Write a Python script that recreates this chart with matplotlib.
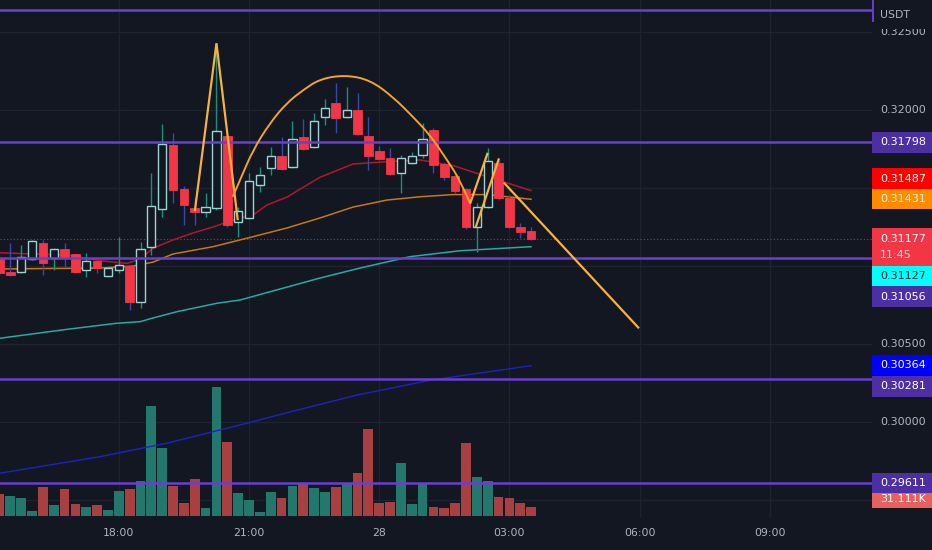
import matplotlib
matplotlib.use("Agg")
import matplotlib.pyplot as plt
import matplotlib.transforms as mtransforms
from matplotlib.patches import Rectangle, PathPatch
from matplotlib.path import Path

# ---------------- data (15-minute candles, index 0 .. 49) ----------------
opens = [0.31048, 0.30962, 0.30965, 0.31048, 0.31151, 0.31055, 0.31112, 0.31080, 0.30978, 0.31035,
         0.30939, 0.30978, 0.31003, 0.30772, 0.31125, 0.31369, 0.31779, 0.31497, 0.31375, 0.31349,
         0.31375, 0.31836, 0.31285, 0.31311, 0.31522, 0.31631, 0.31708, 0.31638, 0.31830, 0.31766,
         0.31958, 0.32048, 0.31958, 0.32003, 0.31836, 0.31740, 0.31696, 0.31599, 0.31663, 0.31715,
         0.31875, 0.31657, 0.31580, 0.31497, 0.31253, 0.31381, 0.31663, 0.31439, 0.31253, 0.31228]
highs = [0.31074, 0.31151, 0.31138, 0.31170, 0.31170, 0.31119, 0.31151, 0.31080, 0.31086, 0.31035,
         0.30990, 0.31189, 0.31010, 0.31157, 0.31599, 0.31913, 0.31856, 0.31516, 0.31439, 0.31471,
         0.32433, 0.31836, 0.31381, 0.31599, 0.31638, 0.31766, 0.31830, 0.31933, 0.31946, 0.31984,
         0.32074, 0.32176, 0.32151, 0.32112, 0.31958, 0.31772, 0.31760, 0.31715, 0.31734, 0.31920,
         0.31888, 0.31663, 0.31587, 0.31503, 0.31407, 0.31760, 0.31683, 0.31458, 0.31279, 0.31253]
lows = [0.30946, 0.30939, 0.30958, 0.31042, 0.30946, 0.30978, 0.30997, 0.30958, 0.30933, 0.30958,
        0.30933, 0.30958, 0.30721, 0.30734, 0.31074, 0.31317, 0.31407, 0.31266, 0.31266, 0.31317,
        0.31362, 0.31253, 0.31189, 0.31304, 0.31478, 0.31587, 0.31619, 0.31631, 0.31747, 0.31760,
        0.31907, 0.31856, 0.31952, 0.31843, 0.31619, 0.31683, 0.31587, 0.31471, 0.31657, 0.31696,
        0.31599, 0.31554, 0.31471, 0.31240, 0.31093, 0.31375, 0.31426, 0.31247, 0.31183, 0.31170]
closes = [0.30958, 0.30946, 0.31061, 0.31163, 0.31022, 0.31112, 0.31055, 0.30965, 0.31035, 0.30990,
          0.30990, 0.31010, 0.30772, 0.31112, 0.31388, 0.31785, 0.31490, 0.31394, 0.31349, 0.31381,
          0.31869, 0.31266, 0.31356, 0.31548, 0.31587, 0.31708, 0.31625, 0.31817, 0.31753, 0.31933,
          0.32016, 0.31952, 0.32003, 0.31849, 0.31708, 0.31689, 0.31593, 0.31696, 0.31708, 0.31817,
          0.31651, 0.31574, 0.31484, 0.31253, 0.31381, 0.31676, 0.31439, 0.31253, 0.31221, 0.31177]

volumes_k = [80.4, 74.2, 64.3, 17.3, 107.6, 39.6, 99.0, 42.0, 33.4, 39.6,
             21.0, 92.8, 99.0, 128.6, 408.0, 250.0, 110.0, 45.8, 137.0, 27.2,
             476.0, 272.0, 82.8, 58.0, 14.8, 89.0, 64.3, 110.0, 120.0, 101.0,
             86.6, 105.0, 120.0, 157.0, 320.0, 45.8, 49.5, 194.0, 43.3, 120.0,
             31.0, 27.2, 45.8, 268.0, 145.0, 130.0, 70.5, 64.3, 45.8, 31.111]
volume_up = [0, 1, 1, 1, 0, 1, 0, 0, 1, 0,
             1, 1, 0, 1, 1, 1, 0, 0, 0, 1,
             1, 0, 1, 1, 1, 1, 0, 1, 0, 1,
             1, 0, 1, 0, 0, 0, 0, 1, 1, 1,
             0, 0, 0, 0, 1, 1, 0, 0, 0, 0]

time_tick_idx = [11, 23, 35, 47, 59, 71]
time_tick_labels = ["18:00", "21:00", "28", "03:00", "06:00", "09:00"]
price_ticks = [0.325, 0.320, 0.315, 0.310, 0.305, 0.300, 0.295]

# moving averages (candle index, price)
ma_red_x = [0.05, 3.09, 6.23, 9.27, 11.76, 12.95, 14.15, 15.99, 17.84, 19.68, 21.53,
            23.37, 24.66, 26.50, 29.54, 32.59, 35.72, 38.76, 41.80, 44.94, 48.99]
ma_red_y = [0.31088, 0.31080, 0.31074, 0.31037, 0.31020, 0.31046, 0.31117, 0.31170, 0.31215,
            0.31253, 0.31298, 0.31330, 0.31394, 0.31445, 0.31572, 0.31657, 0.31672, 0.31683,
            0.31647, 0.31576, 0.31487]
ma_orange_x = [0.05, 4.01, 9.27, 12.31, 14.15, 15.99, 19.68, 23.37, 26.50, 29.54, 32.59,
               35.72, 38.76, 41.80, 44.94, 48.99]
ma_orange_y = [0.30984, 0.30987, 0.30990, 0.31003, 0.31028, 0.31080, 0.31127, 0.31191, 0.31247,
               0.31311, 0.31381, 0.31426, 0.31447, 0.31461, 0.31461, 0.31431]
ma_cyan_x = [0.05, 6.20, 10.81, 12.95, 14.15, 16.34, 20.02, 22.17, 29.54, 33.23, 37.84, 42.45, 48.99]
ma_cyan_y = [0.30540, 0.30597, 0.30636, 0.30646, 0.30670, 0.30710, 0.30764, 0.30785, 0.30926,
             0.30990, 0.31063, 0.31101, 0.31127]
ma_blue_x = [0.05, 9.27, 15.41, 22.17, 26.41, 32.95, 39.87, 48.99]
ma_blue_y = [0.29675, 0.29781, 0.29867, 0.29984, 0.30061, 0.30176, 0.30273, 0.30364]

levels = [0.32644, 0.31798, 0.31056, 0.30281, 0.29611]
countdown = "11:45"

# hand drawings (candle index, price)
zigzag_x = [18.02, 20.00, 21.95]
zigzag_y = [0.31362, 0.32431, 0.31304]
arc_x = [21.50, 22.17, 23.37, 24.93, 26.47, 27.98, 29.54, 31.85, 34.15, 36.27, 38.12,
         39.68, 41.25, 42.45, 43.37]
arc_y = [0.31447, 0.31554, 0.31747, 0.31920, 0.32048, 0.32131, 0.32202, 0.32228, 0.32196,
         0.32087, 0.31959, 0.31843, 0.31683, 0.31554, 0.31407]
seg_a_x, seg_a_y = [43.37, 45.00], [0.31401, 0.31729]
seg_b_x, seg_b_y = [43.89, 46.04], [0.31251, 0.31693]
seg_c_x, seg_c_y = [46.48, 58.94], [0.31538, 0.30604]

# ---------------- style / layout ----------------
W, H = 932, 550
PLOT_W, PLOT_H = 872, 518
PRICE_TOP = 0.327083
PX_PER_PRICE = 15600.0
XLIM = (0.05, 80.42)
VOL_K_PER_PX = 3.704
VOL_BASE_PX = 2.3

BG = "#131722"
GRID = "#1f2330"
TXT = "#b2b5be"
RED = "#f23645"
HOLLOW = "#9ad4d2"
WICK_UP = "#1b8f7f"
WICK_DN = "#3949ab"
PURPLE = "#6a3fd0"
PURPLE_BOX = "#4b2fa3"
YEL = "#f7b23b"
ARC = "#f0a52a"


def px2price(ypx):
    return PRICE_TOP - ypx / PX_PER_PRICE


def price2px(p):
    return (PRICE_TOP - p) * PX_PER_PRICE


fig = plt.figure(figsize=(W / 100, H / 100), dpi=100, facecolor=BG)
rect = [0, (H - PLOT_H) / H, PLOT_W / W, PLOT_H / H]
ylim = (px2price(PLOT_H), PRICE_TOP)

ax_bg = fig.add_axes(rect)
ax_vol = fig.add_axes(rect)
ax = fig.add_axes(rect)
for a, z in ((ax_bg, 0), (ax_vol, 1), (ax, 2)):
    a.set_zorder(z)
    a.set_xlim(*XLIM)
    a.set_xticks([])
    a.set_yticks([])
    for s in a.spines.values():
        s.set_visible(False)
ax_bg.set_facecolor(BG)
ax_vol.patch.set_visible(False)
ax.patch.set_visible(False)
ax_bg.set_ylim(*ylim)
ax.set_ylim(*ylim)

# grid
for t in time_tick_idx:
    ax_bg.axvline(t, color=GRID, lw=0.9)
for p in price_ticks:
    ax_bg.axhline(p, color=GRID, lw=0.9)

# volume
idx = list(range(len(closes)))
vcols = ["#22786d" if u else "#a83f40" for u in volume_up]
ax_vol.bar(idx, volumes_k, width=0.9, color=vcols, linewidth=0)
ax_vol.set_ylim(-VOL_BASE_PX * VOL_K_PER_PX, (PLOT_H - VOL_BASE_PX) * VOL_K_PER_PX)

# moving averages
ax.plot(ma_blue_x, ma_blue_y, color="#1c22c8", lw=1.0, zorder=2)
ax.plot(ma_cyan_x, ma_cyan_y, color="#26aaa4", lw=1.1, zorder=2)
ax.plot(ma_orange_x, ma_orange_y, color="#c8780f", lw=1.1, zorder=2)
ax.plot(ma_red_x, ma_red_y, color="#b0182a", lw=1.1, zorder=2)

# current price dotted line
ax.axhline(closes[-1], color=RED, lw=0.8, ls=(0, (1, 2)), alpha=0.75, zorder=1.5)

# candles
for i in idx:
    o, h, l, c = opens[i], highs[i], lows[i], closes[i]
    up = c >= o
    ax.vlines(i, l, h, colors=WICK_UP if up else WICK_DN, lw=1.0, zorder=3)
    bot = min(o, c)
    hgt = max(abs(c - o), 1.2 / PX_PER_PRICE)
    if up:
        ax.bar(i, hgt, bottom=bot, width=0.76, facecolor=BG, edgecolor=HOLLOW, linewidth=1.0, zorder=4)
    else:
        ax.bar(i, hgt, bottom=bot, width=0.8, facecolor=RED, edgecolor=RED, linewidth=0.6, zorder=4)

# horizontal levels
for lv in levels:
    ax.axhline(lv, color=PURPLE, lw=1.8, zorder=5)

# drawings
ax.plot(zigzag_x, zigzag_y, color=YEL, lw=1.6, zorder=6, solid_joinstyle="miter")
verts = [(arc_x[0], arc_y[0])]
codes = [Path.MOVETO]
n = len(arc_x)
for k in range(1, n - 1):
    if k == n - 2:
        end = (arc_x[-1], arc_y[-1])
    else:
        end = ((arc_x[k] + arc_x[k + 1]) / 2, (arc_y[k] + arc_y[k + 1]) / 2)
    verts += [(arc_x[k], arc_y[k]), end]
    codes += [Path.CURVE3, Path.CURVE3]
ax.add_patch(PathPatch(Path(verts, codes), facecolor="none", edgecolor=ARC, lw=1.4, zorder=6))
for sx, sy in ((seg_a_x, seg_a_y), (seg_b_x, seg_b_y), (seg_c_x, seg_c_y)):
    ax.plot(sx, sy, color=YEL, lw=1.6, zorder=6, solid_capstyle="butt")

# time axis labels
tr = mtransforms.blended_transform_factory(ax.transData, fig.transFigure)
for t, lab in zip(time_tick_idx, time_tick_labels):
    ax.text(t, (H - 533) / H, lab, transform=tr, ha="center", va="center",
            color=TXT, fontsize=7.8)

# ---------------- price scale ----------------
ax_r = fig.add_axes([PLOT_W / W, (H - PLOT_H) / H, (W - PLOT_W) / W, PLOT_H / H])
ax_r.set_facecolor(BG)
ax_r.set_xlim(0, W - PLOT_W)
ax_r.set_ylim(*ylim)
ax_r.set_xticks([])
ax_r.set_yticks([])
for s in ax_r.spines.values():
    s.set_visible(False)

TX = 8.3

# label boxes: (center px, height px, background, text, text colour, z, text px)
boxes = [
    (142, 21, PURPLE_BOX, f"{levels[1]:.5f}", "white", 5, None),
    (178.5, 21, "#ff0000", f"{ma_red_y[-1]:.5f}", "white", 5, None),
    (199.2, 20.5, "#ff8c00", f"{ma_orange_y[-1]:.5f}", "#fff3e0", 5, None),
    (246.8, 37.6, RED, f"{closes[-1]:.5f}", "white", 5, 238.6),
    (275.8, 20.4, "#00ffff", f"{ma_cyan_y[-1]:.5f}", "#0c2a2e", 5, None),
    (296.5, 21, PURPLE_BOX, f"{levels[2]:.5f}", "white", 5, None),
    (365.2, 20.4, "#0000ff", f"{ma_blue_y[-1]:.5f}", "white", 5, None),
    (386, 21, PURPLE_BOX, f"{levels[3]:.5f}", "white", 5, None),
    (498.5, 19, "#e8605e", f"{volumes_k[-1]:.3f}K", "white", 5, 499),
    (483, 20, PURPLE_BOX, f"{levels[4]:.5f}", "white", 7, None),
]

# tick labels that are not hidden by a label box
for p in price_ticks:
    ypx = price2px(p)
    hidden = any(abs(ypx - b[0]) < b[1] / 2 + 5 for b in boxes)
    if not hidden:
        ax_r.text(TX, p, f"{p:.5f}", color=TXT, fontsize=8, va="center", ha="left")

# header covering top of scale
ax_r.add_patch(Rectangle((0, px2price(29)), W - PLOT_W, 29 / PX_PER_PRICE, facecolor=BG,
                         edgecolor="none", zorder=3))
ax_r.text(TX, px2price(15.5), "USDT", color=TXT, fontsize=7.8, va="center", ha="left", zorder=4)
ax_r.plot([0.6, 0.6], [px2price(0), px2price(21)], color=PURPLE, lw=1.4, zorder=4)

for cy, hp, bg, text, fg, z, tpx in boxes:
    ax_r.add_patch(Rectangle((0, px2price(cy + hp / 2)), W - PLOT_W, hp / PX_PER_PRICE,
                             facecolor=bg, edgecolor="none", zorder=z))
    ty = cy if tpx is None else tpx
    ax_r.text(TX, px2price(ty), text, color=fg, fontsize=8, va="center", ha="left", zorder=z + 0.5)
ax_r.text(TX, px2price(255.5), countdown, color="#ffd6da", fontsize=8, va="center", ha="left", zorder=6)

fig.savefig("out.png", dpi=100, facecolor=BG)
